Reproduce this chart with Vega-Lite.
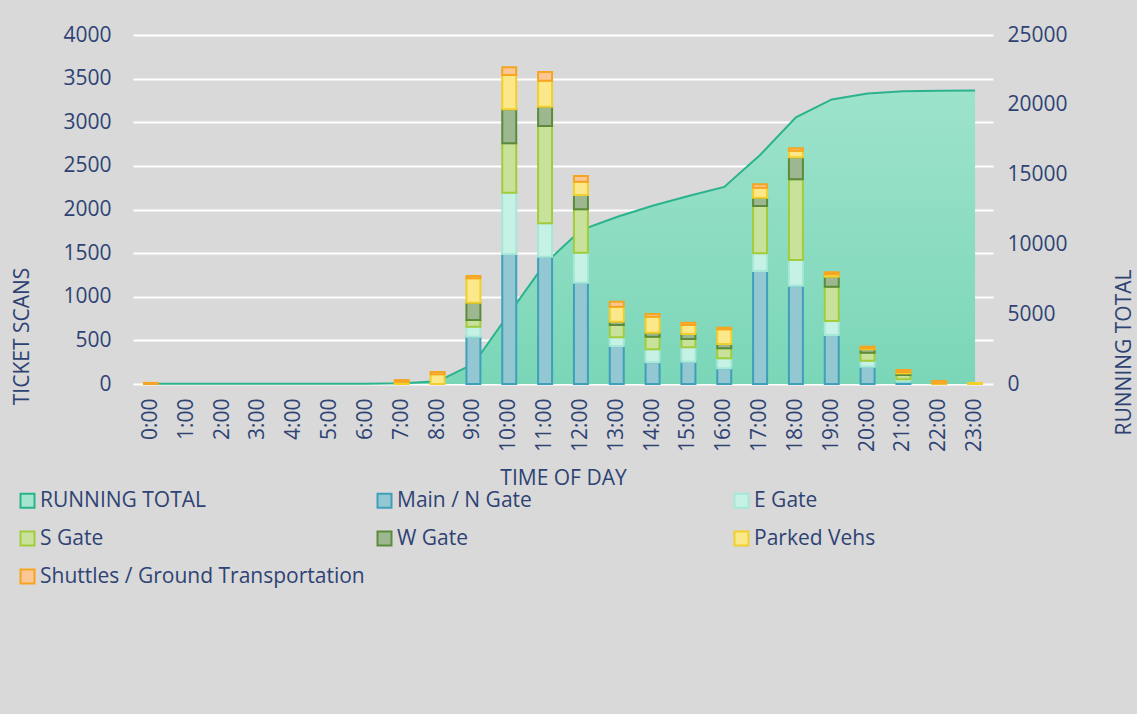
{
  "$schema": "https://vega.github.io/schema/vega-lite/v6.json",
  "autosize": {"type": "none"},
  "width": 860,
  "height": 349,
  "padding": {"left": 133, "top": 35, "right": 144, "bottom": 330},
  "background": "#d9d9d9",
  "config": {
    "view": {"stroke": null},
    "font": "Open Sans",
    "axis": {
      "labelFont": "Open Sans",
      "titleFont": "Open Sans",
      "labelFontSize": 21,
      "titleFontSize": 21,
      "titleFontWeight": "normal",
      "labelColor": "#2e4374",
      "titleColor": "#2e4374",
      "domain": false,
      "ticks": false,
      "tickSize": 0,
      "gridColor": "#ffffff",
      "gridWidth": 2,
      "gridOpacity": 1
    },
    "legend": {
      "labelFont": "Open Sans",
      "labelFontSize": 21,
      "labelColor": "#2e4374"
    }
  },
  "datasets": {
    "running": [
      {"hour": "0:00", "running": 12},
      {"hour": "1:00", "running": 12},
      {"hour": "2:00", "running": 12},
      {"hour": "3:00", "running": 12},
      {"hour": "4:00", "running": 12},
      {"hour": "5:00", "running": 12},
      {"hour": "6:00", "running": 12},
      {"hour": "7:00", "running": 57},
      {"hour": "8:00", "running": 194},
      {"hour": "9:00", "running": 1432},
      {"hour": "10:00", "running": 5062},
      {"hour": "11:00", "running": 8638},
      {"hour": "12:00", "running": 11022},
      {"hour": "13:00", "running": 11965},
      {"hour": "14:00", "running": 12767},
      {"hour": "15:00", "running": 13470},
      {"hour": "16:00", "running": 14115},
      {"hour": "17:00", "running": 16404},
      {"hour": "18:00", "running": 19105},
      {"hour": "19:00", "running": 20385},
      {"hour": "20:00", "running": 20813},
      {"hour": "21:00", "running": 20973},
      {"hour": "22:00", "running": 21008},
      {"hour": "23:00", "running": 21020}
    ],
    "scans": [
      {"hour": "0:00", "Main / N Gate": 0, "E Gate": 0, "S Gate": 0, "W Gate": 0, "Parked Vehs": 0, "Shuttles / Ground Transportation": 12},
      {"hour": "7:00", "Main / N Gate": 0, "E Gate": 0, "S Gate": 0, "W Gate": 0, "Parked Vehs": 25, "Shuttles / Ground Transportation": 20},
      {"hour": "8:00", "Main / N Gate": 0, "E Gate": 0, "S Gate": 0, "W Gate": 0, "Parked Vehs": 111, "Shuttles / Ground Transportation": 26},
      {"hour": "9:00", "Main / N Gate": 542, "E Gate": 115, "S Gate": 76, "W Gate": 199, "Parked Vehs": 279, "Shuttles / Ground Transportation": 27},
      {"hour": "10:00", "Main / N Gate": 1490, "E Gate": 703, "S Gate": 566, "W Gate": 389, "Parked Vehs": 394, "Shuttles / Ground Transportation": 88},
      {"hour": "11:00", "Main / N Gate": 1459, "E Gate": 383, "S Gate": 1115, "W Gate": 221, "Parked Vehs": 298, "Shuttles / Ground Transportation": 100},
      {"hour": "12:00", "Main / N Gate": 1161, "E Gate": 344, "S Gate": 497, "W Gate": 164, "Parked Vehs": 153, "Shuttles / Ground Transportation": 65},
      {"hour": "13:00", "Main / N Gate": 436, "E Gate": 99, "S Gate": 141, "W Gate": 38, "Parked Vehs": 172, "Shuttles / Ground Transportation": 57},
      {"hour": "14:00", "Main / N Gate": 249, "E Gate": 148, "S Gate": 145, "W Gate": 46, "Parked Vehs": 184, "Shuttles / Ground Transportation": 30},
      {"hour": "15:00", "Main / N Gate": 256, "E Gate": 165, "S Gate": 95, "W Gate": 57, "Parked Vehs": 103, "Shuttles / Ground Transportation": 27},
      {"hour": "16:00", "Main / N Gate": 180, "E Gate": 115, "S Gate": 114, "W Gate": 49, "Parked Vehs": 169, "Shuttles / Ground Transportation": 18},
      {"hour": "17:00", "Main / N Gate": 1295, "E Gate": 203, "S Gate": 542, "W Gate": 95, "Parked Vehs": 115, "Shuttles / Ground Transportation": 39},
      {"hour": "18:00", "Main / N Gate": 1127, "E Gate": 294, "S Gate": 925, "W Gate": 252, "Parked Vehs": 76, "Shuttles / Ground Transportation": 27},
      {"hour": "19:00", "Main / N Gate": 562, "E Gate": 160, "S Gate": 393, "W Gate": 115, "Parked Vehs": 27, "Shuttles / Ground Transportation": 23},
      {"hour": "20:00", "Main / N Gate": 199, "E Gate": 68, "S Gate": 92, "W Gate": 38, "Parked Vehs": 12, "Shuttles / Ground Transportation": 19},
      {"hour": "21:00", "Main / N Gate": 27, "E Gate": 27, "S Gate": 49, "W Gate": 19, "Parked Vehs": 15, "Shuttles / Ground Transportation": 23},
      {"hour": "22:00", "Main / N Gate": 0, "E Gate": 0, "S Gate": 0, "W Gate": 0, "Parked Vehs": 10, "Shuttles / Ground Transportation": 25},
      {"hour": "23:00", "Main / N Gate": 0, "E Gate": 0, "S Gate": 0, "W Gate": 0, "Parked Vehs": 12, "Shuttles / Ground Transportation": 0}
    ],
    "seriesOrder": [
      {"series": "Main / N Gate", "rank": 1},
      {"series": "E Gate", "rank": 2},
      {"series": "S Gate", "rank": 3},
      {"series": "W Gate", "rank": 4},
      {"series": "Parked Vehs", "rank": 5},
      {"series": "Shuttles / Ground Transportation", "rank": 6}
    ]
  },
  "layer": [
    {
      "data": {"name": "running"},
      "mark": {
        "type": "area",
        "opacity": 1,
        "fillOpacity": 1,
        "color": {
          "gradient": "linear",
          "x1": 0, "y1": 0, "x2": 0, "y2": 1,
          "stops": [
            {"offset": 0, "color": "#9de3cb"},
            {"offset": 1, "color": "#7bd6b8"}
          ]
        },
        "line": {"color": "#2bb38d", "strokeWidth": 2}
      },
      "encoding": {
        "x": {
          "field": "hour",
          "type": "ordinal",
          "scale": {
            "domain": ["0:00","1:00","2:00","3:00","4:00","5:00","6:00","7:00","8:00","9:00","10:00","11:00","12:00","13:00","14:00","15:00","16:00","17:00","18:00","19:00","20:00","21:00","22:00","23:00"],
            "paddingInner": 0.61,
            "paddingOuter": 0.305
          },
          "axis": {"title": "TIME OF DAY", "labelAngle": -90, "labelPadding": 14, "titlePadding": 16, "grid": false}
        },
        "y": {
          "field": "running",
          "type": "quantitative",
          "scale": {"domain": [0, 25000]},
          "axis": {
            "orient": "right",
            "title": "RUNNING TOTAL",
            "titleAngle": -90,
            "titleY": 317,
            "values": [0, 5000, 10000, 15000, 20000, 25000],
            "format": "d",
            "grid": false,
            "labelPadding": 14,
            "titlePadding": 67
          }
        }
      }
    },
    {
      "data": {"name": "scans"},
      "transform": [
        {"fold": ["Main / N Gate", "E Gate", "S Gate", "W Gate", "Parked Vehs", "Shuttles / Ground Transportation"], "as": ["series", "scans"]},
        {"filter": "datum.scans > 0"},
        {"lookup": "series", "from": {"data": {"name": "seriesOrder"}, "key": "series", "fields": ["rank"]}}
      ],
      "mark": {"type": "bar", "strokeWidth": 2},
      "encoding": {
        "x": {"field": "hour", "type": "ordinal"},
        "y": {
          "field": "scans",
          "type": "quantitative",
          "stack": "zero",
          "scale": {"domain": [0, 4000]},
          "axis": {
            "orient": "left",
            "title": "TICKET SCANS",
            "titleY": 301,
            "values": [0, 500, 1000, 1500, 2000, 2500, 3000, 3500, 4000],
            "format": "d",
            "grid": true,
            "labelPadding": 22,
            "titlePadding": 30
          }
        },
        "fill": {
          "field": "series",
          "type": "nominal",
          "scale": {
            "domain": ["RUNNING TOTAL", "Main / N Gate", "E Gate", "S Gate", "W Gate", "Parked Vehs", "Shuttles / Ground Transportation"],
            "range": ["#a5e5cf", "#93c7d2", "#c6f2e5", "#c9e29b", "#9db891", "#fae88a", "#fdc795"]
          },
          "legend": {
            "title": null,
            "orient": "none",
            "direction": "horizontal",
            "legendX": -116,
            "legendY": 455,
            "columns": 3,
            "gridAlign": "all",
            "columnPadding": 8,
            "rowPadding": 15,
            "symbolType": "square",
            "symbolSize": 196,
            "symbolStrokeWidth": 2,
            "labelOffset": 2,
            "labelLimit": 500
          }
        },
        "stroke": {
          "field": "series",
          "type": "nominal",
          "scale": {
            "domain": ["RUNNING TOTAL", "Main / N Gate", "E Gate", "S Gate", "W Gate", "Parked Vehs", "Shuttles / Ground Transportation"],
            "range": ["#28b48b", "#3fa0b9", "#a5e8d8", "#a3cc3c", "#5c8b3a", "#f2cf2a", "#f5a51f"]
          },
          "legend": {
            "title": null,
            "orient": "none",
            "direction": "horizontal",
            "legendX": -116,
            "legendY": 455,
            "columns": 3,
            "gridAlign": "all",
            "columnPadding": 8,
            "rowPadding": 15,
            "symbolType": "square",
            "symbolSize": 196,
            "symbolStrokeWidth": 2,
            "labelOffset": 2,
            "labelLimit": 500
          }
        },
        "order": {"field": "rank", "type": "quantitative"}
      }
    }
  ],
  "resolve": {"scale": {"y": "independent"}}
}
